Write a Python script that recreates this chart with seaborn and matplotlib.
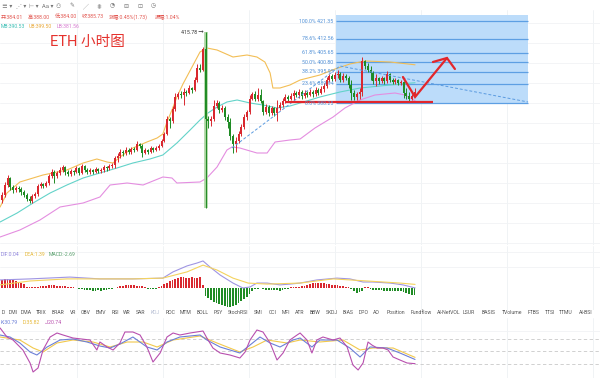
import matplotlib
matplotlib.use('Agg')
import matplotlib.pyplot as plt
import seaborn as sns
import numpy as np

# ---- candles (ETH 1h) ----
first_open = 331.9
close = [334.4, 339.4, 342.9, 338.4, 336.9, 337.9, 337.4, 335.9, 334.4, 332.4,
         331.4, 333.9, 334.9, 338.9, 339.9, 338.9, 340.4, 343.9, 345.9, 343.9,
         345.4, 346.9, 348.4, 345.9, 344.9, 346.4, 345.9, 347.9, 345.4, 348.9,
         346.9, 345.9, 346.9, 345.9, 347.4, 346.4, 346.9, 348.4, 347.9, 348.9,
         349.4, 352.9, 353.9, 355.9, 355.4, 356.9, 355.9, 357.4, 356.9, 359.9,
         358.9, 355.4, 356.9, 355.9, 357.9, 356.9, 357.9, 358.9, 361.4, 364.9,
         372.4, 371.4, 377.4, 383.4, 384.9, 384.4, 385.9, 385.4, 387.9, 386.9,
         391.9, 397.9, 396.9, 407.4, 372.4, 371.4, 372.4, 378.9, 380.4, 376.9,
         377.9, 373.4, 370.9, 363.9, 359.9, 361.4, 364.9, 368.4, 373.4, 375.9,
         382.4, 384.9, 382.4, 384.4, 381.4, 375.9, 378.4, 375.4, 377.9, 375.4,
         377.9, 379.4, 381.4, 383.4, 382.4, 383.9, 385.4, 384.4, 385.9, 383.9,
         385.4, 384.4, 385.9, 384.9, 386.9, 385.4, 387.4, 388.9, 391.9, 393.9,
         392.4, 394.4, 394.9, 391.9, 393.9, 392.9, 389.4, 385.4, 383.4, 384.9,
         385.9, 401.4, 398.9, 396.9, 395.4, 391.4, 392.9, 391.4, 392.9, 391.4,
         394.9, 391.9, 390.9, 391.9, 390.4, 390.9, 385.4, 383.9, 382.4, 384.0,
         385.73]
high = [335.9, 340.9, 344.4, 343.4, 339.4, 338.9, 338.9, 338.4, 336.9, 335.4,
        333.9, 334.9, 335.9, 339.9, 340.9, 340.4, 341.4, 344.9, 347.4, 346.9,
        346.4, 348.4, 349.4, 348.9, 346.9, 347.4, 346.9, 348.9, 348.4, 349.9,
        349.4, 347.9, 347.9, 347.4, 348.4, 347.9, 347.9, 349.4, 348.9, 349.9,
        350.4, 353.9, 355.4, 357.4, 356.9, 358.4, 357.9, 358.4, 358.4, 361.4,
        360.4, 359.9, 357.9, 357.4, 358.9, 358.4, 358.9, 359.9, 362.4, 365.9,
        373.9, 373.4, 378.9, 385.4, 385.9, 386.4, 387.9, 386.9, 389.4, 388.4,
        393.4, 399.9, 399.9, 408.4, 415.78, 373.9, 373.9, 381.9, 381.9, 381.4,
        379.4, 378.9, 374.9, 372.9, 364.9, 363.4, 366.4, 369.9, 374.9, 376.9,
        384.4, 385.9, 386.4, 387.9, 387.4, 381.9, 379.9, 379.4, 378.9, 378.4,
        381.9, 380.9, 382.9, 384.9, 384.4, 385.4, 386.9, 386.4, 387.4, 386.9,
        386.9, 386.4, 387.4, 386.9, 388.4, 387.9, 388.9, 390.4, 393.4, 394.9,
        394.9, 395.9, 396.9, 395.9, 395.4, 394.9, 393.9, 391.9, 386.9, 385.9,
        387.9, 403.4, 401.9, 400.4, 398.9, 396.4, 394.9, 393.4, 393.9, 393.4,
        396.4, 395.4, 392.9, 392.9, 392.4, 391.9, 391.4, 387.9, 385.9, 384.9,
        388.0]
low = [330.4, 333.4, 338.4, 336.9, 335.4, 335.9, 335.9, 334.4, 333.4, 331.4,
       330.4, 330.4, 332.9, 333.9, 337.9, 337.9, 338.4, 339.4, 342.9, 340.4,
       342.9, 344.4, 345.9, 344.4, 343.9, 343.9, 344.4, 345.4, 344.4, 344.9,
       345.9, 344.9, 344.9, 344.9, 345.4, 345.4, 345.4, 345.9, 346.4, 346.9,
       347.9, 347.9, 350.9, 352.9, 353.9, 354.4, 354.9, 354.9, 355.9, 356.4,
       357.9, 353.4, 354.9, 354.9, 355.4, 355.9, 356.4, 356.9, 358.4, 360.9,
       364.4, 367.9, 370.4, 376.4, 382.4, 382.9, 379.4, 383.9, 384.9, 385.4,
       386.4, 390.9, 395.9, 396.4, 327.9, 367.9, 368.9, 371.4, 377.9, 375.4,
       375.9, 371.9, 367.9, 361.9, 355.4, 355.9, 360.4, 363.9, 367.4, 371.9,
       374.9, 381.9, 381.4, 381.4, 380.4, 374.4, 374.9, 373.9, 374.4, 373.9,
       371.4, 376.9, 378.4, 380.4, 381.4, 381.9, 381.9, 383.4, 382.9, 382.4,
       382.9, 383.4, 383.9, 383.4, 383.9, 384.4, 384.9, 385.9, 387.9, 390.9,
       391.4, 391.4, 392.9, 390.9, 390.9, 391.9, 387.9, 381.9, 381.9, 381.9,
       382.4, 383.9, 397.4, 395.9, 391.9, 389.9, 388.9, 389.9, 390.4, 389.9,
       390.4, 390.9, 389.9, 389.9, 389.4, 389.4, 382.9, 382.4, 381.4, 381.9,
       384.0]

# ---- Bollinger (sampled along the bar index) ----
ub_x = [-0.7, 1.8, 6.5, 14.9, 23.6, 29.5, 34.5, 38.2, 40.4, 42.9, 47.6, 52.7, 56.4, 58.5,
        60.0, 61.8, 63.6, 65.8, 69.1, 72.0, 74.5, 78.2, 84.0, 89.1, 92.7, 95.6, 97.5, 98.5,
        101.1, 104.7, 108.4, 115.6, 121.1, 126.5, 132.0, 141.1, 150.2]
ub = [328.4, 335.4, 340.9, 344.4, 346.9, 350.4, 352.4, 350.9, 350.4, 353.4, 357.9, 360.9,
      362.9, 364.9, 370.9, 376.9, 383.4, 389.9, 398.4, 405.9, 407.9, 406.9, 403.4, 404.4,
      403.4, 400.9, 395.4, 387.9, 387.9, 389.4, 391.9, 394.4, 397.4, 399.9, 401.4, 400.9, 399.50]
mb_x = [-0.7, 5.5, 11.3, 17.5, 23.6, 29.5, 35.6, 41.8, 47.6, 53.8, 58.5, 63.6, 68.4, 72.0,
        74.9, 78.2, 81.8, 85.5, 90.2, 94.9, 100.0, 104.7, 108.4, 115.6, 122.9, 130.2, 137.5,
        144.7, 150.2]
mb = [320.9, 325.4, 330.4, 335.4, 339.4, 342.9, 345.4, 347.9, 350.4, 352.4, 354.4, 360.4,
      366.9, 371.9, 375.4, 378.4, 380.9, 381.9, 380.4, 379.4, 377.9, 378.9, 380.4, 383.4,
      385.9, 387.9, 388.9, 389.9, 390.53]
lb_x = [-0.7, 6.5, 13.8, 21.1, 29.5, 35.6, 39.3, 45.5, 51.3, 58.5, 61.8, 63.6, 72.0, 74.5,
        78.2, 81.8, 83.6, 86.5, 92.7, 96.4, 99.3, 104.7, 108.4, 113.8, 120.4, 124.7, 130.2,
        135.6, 142.9, 146.5, 150.2]
lb = [313.4, 316.9, 321.9, 328.4, 330.4, 333.4, 339.4, 340.4, 339.4, 343.4, 342.9, 340.4,
      340.9, 342.9, 348.4, 356.9, 358.4, 357.9, 355.4, 355.4, 360.9, 361.9, 362.4, 367.9,
      373.4, 377.9, 381.9, 384.4, 385.4, 384.4, 381.56]

# ---- fibonacci drawing ----
fib_ratio = ['100.0%', '78.6%', '61.8%', '50.0%', '38.2%', '23.6%', '0.0%']
fib_price = [421.35, 412.56, 405.65, 400.80, 395.95, 389.94, 380.25]
fib_span = [121.5, 191.3]
fib_top = 424.3
trend_x = [83.6, 122.9, 191.3]
trend_y = [357.9, 398.9, 380.9]
support_price, support_span = 381.0, [103.0, 156.7]
arrow_x, arrow_y = [145.8, 150.2, 161.8], [393.4, 383.4, 402.9]
head_x, head_y = [156.7, 161.8, 164.7], [400.9, 402.9, 397.4]

# ---- MACD ----
macd_hist = [3.0, 3.3, 3.4, 3.2, 3.0, 2.6, 2.2, 1.8, 1.4, 0.4,
             0.3, 0.2, 0.3, 0.3, 0.6, 0.8, 0.9, 1.0, 1.1, 1.0,
             0.9, 0.8, 0.7, 0.6, 0.5, 0.3, 0.2, 0.1, -0.3, -0.5,
             -0.7, -0.8, -0.9, -1.0, -1.0, -0.9, -1.0, -0.8, -0.6, -0.4,
             -0.2, 0.1, 0.4, 0.7, 0.9, 1.0, 1.1, 1.1, 1.0, 0.9,
             0.8, 0.6, 0.3, -0.2, -0.4, -0.5, -0.4, 0.2, 0.8, 1.4,
             2.0, 2.5, 3.0, 3.6, 3.9, 4.2, 4.1, 4.0, 3.8, 4.1,
             4.0, 3.7, 4.3, 1.2, -3.0, -3.8, -4.6, -5.2, -5.8, -6.2,
             -6.6, -7.0, -7.3, -7.2, -6.9, -6.4, -5.8, -5.0, -4.2, -3.3,
             -2.2, -1.2, -0.5, -0.2, -0.1, -0.3, -0.6, -0.8, -0.9, -0.8,
             -0.9, -1.0, -0.8, -0.5, -0.2, 0.2, 0.4, 0.5, 0.4, 0.6,
             0.8, 1.2, 1.5, 1.8, 1.9, 2.0, 1.9, 1.8, 1.6, 1.5,
             1.3, 1.2, 1.0, 0.9, 0.7, 0.4, 0.2, -0.5, -1.2, -1.8,
             -1.5, -1.0, 0.3, 0.2, -0.3, -0.6, -0.8, -0.9, -0.9, -1.0,
             -1.0, -1.1, -1.0, -1.1, -1.2, -1.3, -1.6, -2.0, -2.3, -2.5,
             -2.69]
dif_x = [-0.7, 10.2, 24.7, 35.6, 47.6, 58.5, 62.2, 67.3, 70.9, 73.1, 75.6, 79.3, 84.0, 87.6,
         90.2, 92.7, 96.4, 101.1, 104.7, 108.4, 114.5, 121.8, 126.5, 131.3, 134.9, 141.1,
         145.8, 150.2]
dif = [3.1, 3.5, 4.2, 3.5, 3.5, 3.8, 6.2, 8.5, 9.6, 10.4, 8.1, 5.0, 1.9, 0.0,
       0.4, 1.9, 1.9, 1.2, 1.5, 1.9, 3.1, 3.8, 3.5, 2.3, 2.3, 1.9, 1.2, 0.04]
dea_x = [-0.7, 10.2, 23.6, 35.6, 47.6, 58.5, 67.3, 73.1, 78.2, 84.0, 89.5, 96.4, 108.4,
         120.4, 132.7, 144.7, 150.2]
dea = [1.2, 2.7, 3.5, 3.5, 3.5, 3.8, 6.2, 8.8, 6.9, 3.8, 1.9, 1.5, 1.9, 3.5, 2.7, 1.9, 1.39]

# ---- KDJ ----
k_x = [-0.7, 2.9, 6.5, 10.2, 12.7, 16.4, 21.1, 25.8, 30.9, 35.6, 39.3, 42.9, 47.6, 52.7,
       56.4, 60.0, 64.7, 72.0, 74.5, 79.3, 86.5, 90.2, 93.8, 97.5, 101.1, 105.8, 108.4,
       112.7, 115.6, 121.8, 126.5, 130.2, 133.8, 140.0, 144.7, 150.2]
k_val = [89.5, 84.7, 70.3, 48.7, 41.5, 60.7, 77.5, 79.9, 72.7, 63.1, 58.3, 67.9, 84.7, 60.7,
         53.5, 72.7, 84.7, 89.5, 77.5, 60.7, 46.3, 65.5, 84.7, 70.3, 60.7, 77.5, 82.3,
         60.7, 77.5, 77.5, 58.3, 36.7, 60.7, 58.3, 46.3, 30.79]
d_x = [-0.7, 6.5, 11.3, 14.9, 20.0, 25.8, 33.1, 39.3, 45.5, 51.3, 56.4, 62.2, 72.0, 78.2,
       86.5, 91.3, 96.4, 103.6, 108.4, 115.6, 124.0, 130.2, 134.9, 142.2, 150.2]
d_val = [84.7, 77.5, 58.3, 48.7, 70.3, 77.5, 72.7, 60.7, 72.7, 72.7, 60.7, 77.5, 87.1, 70.3,
         48.7, 60.7, 77.5, 70.3, 77.5, 72.7, 77.5, 53.5, 58.3, 58.3, 35.82]
j_x = [-0.7, 1.8, 4.0, 7.6, 10.2, 11.3, 13.1, 14.9, 17.5, 20.0, 22.2, 25.8, 32.0, 34.5,
       35.6, 38.2, 40.4, 42.9, 44.7, 47.6, 50.2, 52.7, 54.9, 57.5, 60.0, 62.2, 64.7, 68.4,
       73.1, 74.5, 76.7, 79.3, 82.9, 86.5, 88.4, 90.2, 92.7, 94.9, 97.5, 100.0, 102.2,
       104.7, 107.3, 108.4, 110.9, 112.7, 114.5, 116.7, 120.4, 122.9, 125.5, 127.6, 129.5,
       131.3, 133.1, 134.5, 136.4, 138.5, 140.4, 142.2, 144.7, 147.3, 150.2]
j_val = [106.3, 84.7, 77.5, 53.5, 22.3, 0.7, 10.3, 53.5, 84.7, 94.3, 89.5, 82.3, 77.5, 53.5,
         72.7, 60.7, 53.5, 70.3, 96.7, 96.7, 89.5, 60.7, 24.7, 46.3, 84.7, 94.3, 89.5, 94.3,
         99.1, 82.3, 58.3, 46.3, 41.5, 34.3, 48.7, 77.5, 101.5, 96.7, 70.3, 29.5, 46.3,
         77.5, 89.5, 94.3, 77.5, 46.3, 77.5, 84.7, 77.5, 82.3, 60.7, 17.5, 5.5,
         22.3, 72.7, 65.5, 58.3, 58.3, 53.5, 36.7, 29.5, 22.3, 20.74]

tabs = ['D', 'DMI', 'DMA', 'TRIX', 'BRAR', 'VR', 'OBV', 'EMV', 'RSI', 'WR', 'SAR', 'KDJ',
        'ROC', 'MTM', 'BOLL', 'PSY', 'StochRSI', 'SMI', 'CCI', 'MFI', 'ATR', 'BBW', 'SKDJ',
        'BIAS', 'DPO', 'AO', 'Position', 'Fundflow', 'AI-NetVOL', 'LSUR', 'BASIS', 'TVolume',
        'FTBS', 'TTSI', 'TTMU', 'AI-BSI']
tab_pos = [3, 13, 26, 41, 58, 73, 86, 101, 115, 127, 141, 155.5, 170.7, 186, 203, 218, 237.7,
           258, 272.5, 285.8, 300, 315.5, 332, 348, 363.8, 376, 395.5, 421, 449, 469, 489,
           512.5, 534, 550, 566, 586]

UP, DOWN = '#d9282f', '#1f8b24'
sns.set_theme(style='white')
plt.rcParams['font.family'] = ['Roboto', 'Noto Sans CJK SC', 'DejaVu Sans']

W, H = 600, 378
X0, DX = 2.0, 2.75
fig = plt.figure(figsize=(6, 3.78), dpi=100)


def panel(top, bottom, ylim):
    a = fig.add_axes([0, 1 - bottom / H, 1, (bottom - top) / H])
    a.set_xlim(-X0 / DX, (W - X0) / DX)
    a.set_ylim(*ylim)
    a.set_axis_off()
    for v in [27.3, 58.5, 89.8, 121.1, 152.4, 183.6, 214.9]:
        a.axvline(v, color='#eef1f4', lw=0.6, zorder=0)
    return a


def ftext(x, y, s, **kw):
    kw.setdefault('fontsize', 3.7)
    fig.text(x / W, 1 - y / H, s, va='center', **kw)


close = np.array(close)
high = np.array(high)
low = np.array(low)
opn = np.r_[first_open, close[:-1]]
idx = np.arange(len(close))
high = np.maximum(high, np.maximum(opn, close))
low = np.minimum(low, np.minimum(opn, close))
cc = np.where(close >= opn, UP, DOWN)

# ---------------- main chart ----------------
ax = panel(10, 245, (309.4, 426.9))
for p in np.arange(310.4, 427, 10):
    ax.axhline(p, color='#f1f3f5', lw=0.6, zorder=0)

ax.fill_between(fib_span, fib_price[-1], fib_top, color='#bcdcfa', lw=0, zorder=0.5)
ax.hlines(fib_price, fib_span[0], fib_span[1], color='#5d9fe3', lw=0.9, zorder=0.6)
for r, p in zip(fib_ratio, fib_price):
    ax.text(fib_span[0] - 1.0, p, f'{r} {p:.2f}', ha='right', va='center',
            fontsize=3.8, color='#4f8fd6', zorder=6)

sns.lineplot(x=ub_x, y=ub, ax=ax, color='#f3be55', lw=0.8, legend=False, zorder=1)
sns.lineplot(x=mb_x, y=mb, ax=ax, color='#63d3c9', lw=0.8, legend=False, zorder=1)
sns.lineplot(x=lb_x, y=lb, ax=ax, color='#e48ee0', lw=0.8, legend=False, zorder=1)

peak = int(np.argmax(high))
ax.vlines(peak, low[peak], high[peak], color='#a9d39e', lw=2.6, zorder=1.5)
ax.vlines(idx, low, high, colors=cc, lw=0.7, zorder=2)
body = np.maximum(np.abs(close - opn), 0.25)
ax.bar(idx, body, bottom=np.minimum(opn, close), width=0.72, color=cc, lw=0, zorder=3)
ax.text(peak - 0.6, high[peak], f'{high[peak]:.2f} →', ha='right', va='center',
        fontsize=3.8, color='#333333', zorder=6)

ax.plot(trend_x, trend_y, color='#5b9be0', lw=0.7, ls=(0, (3, 2)), zorder=4)
ax.hlines(support_price, *support_span, color='#e3262b', lw=1.6, zorder=5)
ax.plot(arrow_x, arrow_y, color='#e3262b', lw=1.6, zorder=5, solid_joinstyle='miter')
ax.plot(head_x, head_y, color='#e3262b', lw=1.6, zorder=5, solid_joinstyle='miter')

# ---------------- MACD ----------------
mac = panel(246, 310, (-8.46, 16.15))
for v in [13.8, 8.1]:
    mac.axhline(v, color='#f1f3f5', lw=0.6, zorder=0)
hist = np.array(macd_hist)
mac.bar(idx, hist, width=0.6, color=np.where(hist >= 0, UP, DOWN), lw=0, zorder=2)
sns.lineplot(x=dif_x, y=dif, ax=mac, color='#9f95e3', lw=0.8, legend=False, zorder=3)
sns.lineplot(x=dea_x, y=dea, ax=mac, color='#f4d35e', lw=0.8, legend=False, zorder=3)

# ---------------- KDJ ----------------
kdj = panel(318, 378, (-13.7, 130.3))
kdj.axhline(100, color='#f1f3f5', lw=0.6, zorder=0)
for v in [80, 50, 20]:
    kdj.axhline(v, color='#c9c9c9', lw=0.6, ls=(0, (4, 3)), zorder=0)
sns.lineplot(x=d_x, y=d_val, ax=kdj, color='#f2c94c', lw=0.8, legend=False, zorder=2)
sns.lineplot(x=k_x, y=k_val, ax=kdj, color='#6b7fd7', lw=0.8, legend=False, zorder=3)
sns.lineplot(x=j_x, y=j_val, ax=kdj, color='#b84fae', lw=0.8, legend=False, zorder=4)

# ---------------- texts ----------------
tools = ['≡ ▾', '⋰ ▾', '⊢ ▾', 'Aa ▾', '⚇', '✎', '╱', '⋕', '◔', '⊟', '⊡', '◷']
for i, t in enumerate(tools):
    ftext(2 + i * 13.5, 6, t, color='#777777', fontsize=4.2)

info = ['开:384.01', '高:388.00', '低:384.00', '收:385.73', '涨幅:0.45%(1.73)', '振幅:1.04%']
info_x = [1, 28, 55, 82, 109, 155]
for t, x in zip(info, info_x):
    ftext(x, 17, t, color='#e2554f')
ftext(1, 27, 'MB:390.53', color='#3dbfb5')
ftext(29, 27, 'UB:399.50', color='#e9a93a')
ftext(57, 27, 'LB:381.56', color='#d77ad0')
ftext(50, 42, 'ETH 小时图', color='#e5322d', fontsize=10.5)

ftext(1, 254, 'DIF:0.04', color='#8f84dc')
ftext(25, 254, 'DEA:1.39', color='#e6b93a')
ftext(49, 254, 'MACD:-2.69', color='#5aa06e')

for t, x in zip(tabs, tab_pos):
    ftext(x, 313, t, color='#b7bfd4' if t == 'KDJ' else '#555555', ha='center')

ftext(1, 322, 'K:30.79', color='#6b7fd7')
ftext(23, 322, 'D:35.82', color='#e6b93a')
ftext(45, 322, 'J:20.74', color='#b84fae')

fig.savefig('out.png', dpi=100)
